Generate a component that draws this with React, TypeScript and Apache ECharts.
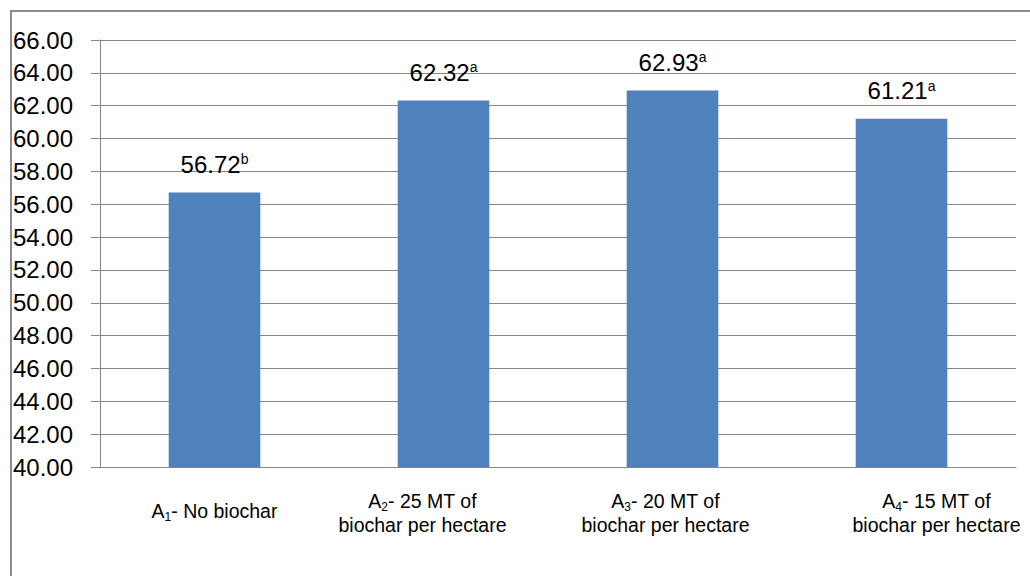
import React, { useEffect, useRef } from "react";
import * as echarts from "echarts";

const categories = [
  "A1- No biochar",
  "A2- 25 MT of\nbiochar per hectare",
  "A3- 20 MT of\nbiochar per hectare",
  "A4- 15 MT of\nbiochar per hectare",
];
const values = [56.72, 62.32, 62.93, 61.21];
const letters = ["b", "a", "a", "a"];
const yMin = 40;
const yMax = 66;
const yStep = 2;

const FONT = "Liberation Sans";
const GRAY = "#868686";

function formatCategory(text: string): string {
  return text
    .split("\n")
    .map((line, i) => {
      if (i === 0) {
        const m = line.match(/^A(\d)(.*)$/);
        if (m) return `{m|A}{s|${m[1]}}{m|${m[2]}}`;
      }
      return `{m|${line}}`;
    })
    .join("\n");
}

export default function App() {
  const ref = useRef<HTMLDivElement>(null);
  useEffect(() => {
    if (!ref.current) return;
    const chart = echarts.init(ref.current, undefined, { renderer: "svg" });
    const shifts = [0, -21, -7, 35];
    const catData = categories.map((c, i) => {
      const s = shifts[i];
      const top = c.indexOf("\n") < 0 ? 10 : 0;
      const padding = s >= 0 ? [top, 0, 0, 2 * s] : [top, -2 * s, 0, 0];
      return { value: c, textStyle: { padding } };
    });
    chart.setOption({
      animation: false,
      graphic: [
        {
          type: "line",
          shape: { x1: 10, y1: 11, x2: 1030, y2: 11 },
          style: { stroke: "#8c8c8c", lineWidth: 2 },
          silent: true,
        },
      ],
      grid: { left: 100, right: 14, top: 40, bottom: 109 },
      xAxis: {
        type: "category",
        data: catData,
        axisLine: { show: true, lineStyle: { color: GRAY, width: 1 } },
        axisTick: { show: false },
        axisLabel: {
          interval: 0,
          margin: 22,
          align: "center",
          formatter: (v: string) => formatCategory(v),
          rich: {
            m: { fontFamily: FONT, fontSize: 19.5, lineHeight: 24, color: "#000" },
            s: { fontFamily: FONT, fontSize: 12, lineHeight: 6, verticalAlign: "bottom", color: "#000" },
          },
        },
      },
      yAxis: {
        type: "value",
        min: yMin,
        max: yMax,
        interval: yStep,
        axisLine: { show: true, lineStyle: { color: GRAY, width: 1 } },
        axisTick: { show: true, length: 9, lineStyle: { color: GRAY, width: 1 } },
        splitLine: { show: true, lineStyle: { color: GRAY, width: 1 } },
        axisLabel: {
          margin: 27,
          fontFamily: FONT,
          fontSize: 24,
          color: "#000",
          formatter: (v: number) => v.toFixed(2),
        },
      },
      series: [
        {
          type: "bar",
          data: values.map((v) => v),
          barWidth: "40%",
          itemStyle: { color: "#4F81BD" },
          label: {
            show: true,
            position: "top",
            distance: 13,
            formatter: (p: any) => `{v|${p.value.toFixed(2)}}{sup|${letters[p.dataIndex]}}`,
            rich: {
              v: { fontFamily: FONT, fontSize: 24, lineHeight: 30, color: "#000" },
              sup: { fontFamily: FONT, fontSize: 14, lineHeight: 14, padding: [3, 0, 0, 0], verticalAlign: "top", color: "#000" },
            },
          },
        },
      ],
    });
    return () => chart.dispose();
  }, []);
  return (
    <div style={{ position: "absolute", left: 0, top: 0, width: 1030, height: 576, overflow: "hidden", background: "#fff" }}>
      <div
        style={{
          position: "absolute",
          left: 10,
          top: 10,
          width: 1100,
          height: 700,
          borderLeft: "2px solid #8c8c8c",
          borderTop: "2px solid #8c8c8c",
        }}
      />
      <div
        ref={ref}
        style={{ position: "absolute", left: 0, top: 0, width: 1030, height: 576 }}
      />
    </div>
  );
}
